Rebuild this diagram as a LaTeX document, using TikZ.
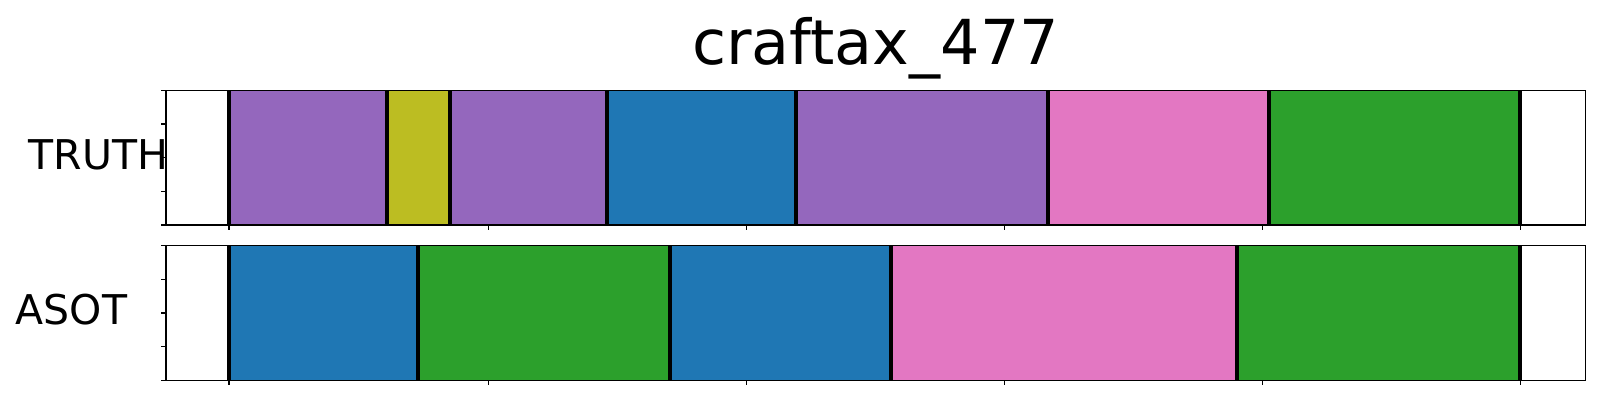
\documentclass[tikz,border=0pt]{standalone}
\usepackage{fontspec}
\setmainfont{DejaVu Sans}
\definecolor{tpurple}{HTML}{9467BD}
\definecolor{tolive}{HTML}{BCBD22}
\definecolor{tblue}{HTML}{1F77B4}
\definecolor{tpink}{HTML}{E377C2}
\definecolor{tgreen}{HTML}{2CA02C}
\begin{document}
\begin{tikzpicture}[x=1pt,y=-1pt,
  seg/.style={line width=0.6pt},
  bound/.style={line width=4pt,black},
  spine/.style={line width=1.6pt,black},
  tick/.style={line width=1.2pt,black},
  lab/.style={inner sep=0pt,font=\fontsize{41}{41}\selectfont}]
\useasboundingbox (0,0) rectangle (1600,400);
% title
\node[inner sep=0pt,anchor=base,font=\fontsize{62}{62}\selectfont] (title) at (875.6,64) {craftax\_477};
% ---------- TRUTH axes ----------
\def\ta{90.3}\def\tb{225}
\foreach \x/\y/\c in {229/387/tpurple,387/449.7/tolive,449.7/607/tpurple,607/796/tblue,796/1047.7/tpurple,1047.7/1269/tpink,1269/1520/tgreen}{
  \fill[\c,draw=\c!85!black,seg] (\x,\ta) rectangle (\y,\tb);
}
\foreach \x in {229,387,449.7,607,796,1047.7,1269,1520}{
  \draw[bound] (\x,\ta) -- (\x,\tb);
}
\draw[spine] (165.7,\ta) rectangle (1585.5,\tb);
\foreach \x in {229,488.3,746.2,1004.3,1262.3,1520.3}{
  \draw[tick] (\x,\tb) -- (\x,\tb+5);
}
\foreach \y in {90.3,124,157.7,191.3,225}{
  \draw[tick] (165.7,\y) -- (160.7,\y);
}
\node[lab,anchor=base east] (truth) at (168.5,169) {TRUTH};
% ---------- ASOT axes ----------
\def\ba{245.3}\def\bb{380.3}
\foreach \x/\y/\c in {229/417.7/tblue,417.7/670/tgreen,670/890.7/tblue,890.7/1236.7/tpink,1236.7/1520/tgreen}{
  \fill[\c,draw=\c!85!black,seg] (\x,\ba) rectangle (\y,\bb);
}
\foreach \x in {229,417.7,670,890.7,1236.7,1520}{
  \draw[bound] (\x,\ba) -- (\x,\bb);
}
\draw[spine] (165.7,\ba) rectangle (1585.5,\bb);
\foreach \x in {229,488.3,746.2,1004.3,1262.3,1520.3}{
  \draw[tick] (\x,\bb) -- (\x,\bb+5);
}
\foreach \y in {245.3,279.7,313,346.3,380.3}{
  \draw[tick] (165.7,\y) -- (160.7,\y);
}
\node[lab,anchor=base east] (asot) at (127.5,324) {ASOT};
\end{tikzpicture}
\end{document}
